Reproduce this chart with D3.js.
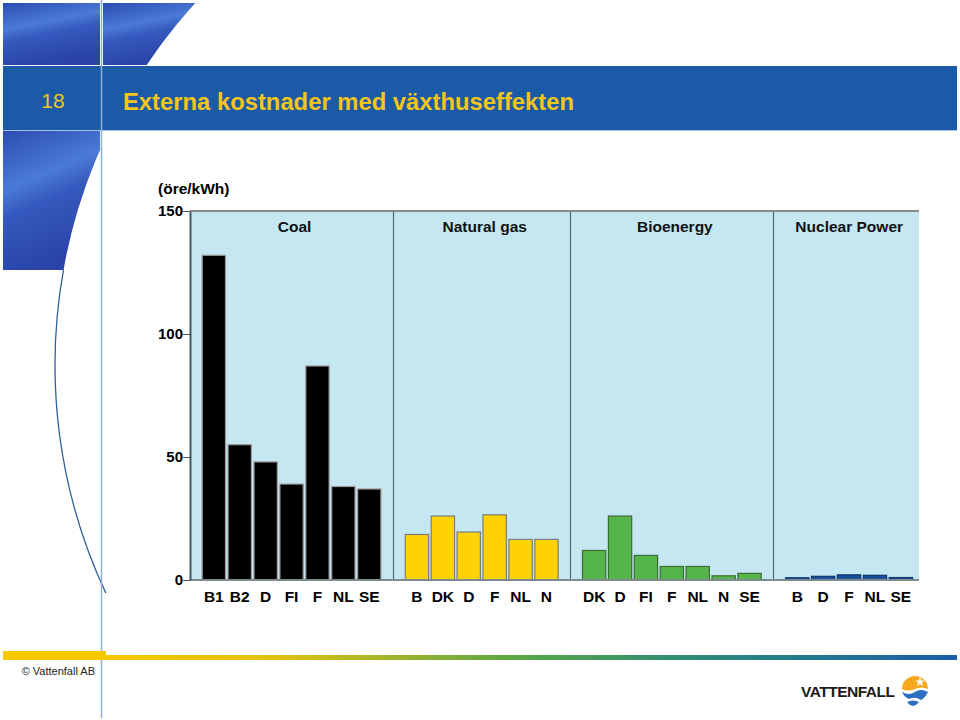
<!DOCTYPE html>
<html>
<head>
<meta charset="utf-8">
<script src="https://cdn.jsdelivr.net/npm/d3@7"></script>
<style>
  body { margin: 0; background: #fff; }
  svg { display: block; font-family: "Liberation Sans", Arial, sans-serif; }
</style>
</head>
<body>
<svg id="mainFrame"></svg>
<script>
// chart values
const groupNames = ['Coal', 'Natural gas', 'Bioenergy', 'Nuclear Power'];
const coalLabels = ['B1', 'B2', 'D', 'FI', 'F', 'NL', 'SE'];
const coalValues = [132, 55, 48, 39, 87, 38, 37];
const gasLabels = ['B', 'DK', 'D', 'F', 'NL', 'N'];
const gasValues = [18.5, 26, 19.5, 26.5, 16.5, 16.5];
const bioLabels = ['DK', 'D', 'FI', 'F', 'NL', 'N', 'SE'];
const bioValues = [12, 26, 10, 5.5, 5.5, 1.7, 2.7];
const nuclearLabels = ['B', 'D', 'F', 'NL', 'SE'];
const nuclearValues = [0.9, 1.5, 2.1, 1.9, 1.0];
const yTicks = [0, 50, 100, 150];

const fills = ['#000000', '#ffd204', '#55b54a', '#1c4f9c'];
const strokes = ['#9a9a9a', '#7c7c7c', '#3d6b38', '#0e3570'];

const width = 960, height = 720;
const svg = d3.select('#mainFrame')
    .attr('width', width)
    .attr('height', height);

const defs = svg.append('defs');

// ---- slide decoration ----
const sky = defs.append('linearGradient').attr('id', 'sky')
    .attr('x1', 0).attr('y1', 0).attr('x2', 0.3).attr('y2', 1);
sky.append('stop').attr('offset', '0%').attr('stop-color', '#2b4db3');
sky.append('stop').attr('offset', '40%').attr('stop-color', '#4a7bd6');
sky.append('stop').attr('offset', '58%').attr('stop-color', '#3559be');
sky.append('stop').attr('offset', '100%').attr('stop-color', '#2a44a8');

const foot = defs.append('linearGradient').attr('id', 'foot')
    .attr('x1', 0).attr('y1', 0).attr('x2', 1).attr('y2', 0);
foot.append('stop').attr('offset', '0%').attr('stop-color', '#f6c800');
foot.append('stop').attr('offset', '20%').attr('stop-color', '#e2c112');
foot.append('stop').attr('offset', '48%').attr('stop-color', '#5aa744');
foot.append('stop').attr('offset', '70%').attr('stop-color', '#2a8a7a');
foot.append('stop').attr('offset', '100%').attr('stop-color', '#1a5ea9');

// big circle that cuts the photo tiles
const cx = 592, cy = 365, R = 537;
defs.append('clipPath').attr('id', 'outsideCircle')
    .append('path')
    .attr('clip-rule', 'evenodd')
    .attr('d', `M0,0H${width}V${height}H0Z M${cx - R},${cy} a${R},${R} 0 1,0 ${2 * R},0 a${R},${R} 0 1,0 ${-2 * R},0Z`);

svg.append('rect').attr('x', 3).attr('y', 3).attr('width', 97).attr('height', 62).attr('fill', 'url(#sky)');
svg.append('rect').attr('x', 103).attr('y', 3).attr('width', 93).attr('height', 62)
    .attr('fill', 'url(#sky)').attr('clip-path', 'url(#outsideCircle)');
svg.append('rect').attr('x', 3).attr('y', 131).attr('width', 97).attr('height', 139)
    .attr('fill', 'url(#sky)').attr('clip-path', 'url(#outsideCircle)');

// thin arc continuing down the left side
const yA = 270, yB = 593;
const xA = cx - Math.sqrt(R * R - (cy - yA) ** 2);
const xB = cx - Math.sqrt(R * R - (yB - cy) ** 2);
svg.append('path')
    .attr('d', `M${xA},${yA} A${R},${R} 0 0,0 ${xB},${yB}`)
    .attr('fill', 'none').attr('stroke', '#2f5f98').attr('stroke-width', 1.3);

// title band
svg.append('rect').attr('x', 3).attr('y', 66).attr('width', 954).attr('height', 64).attr('fill', '#1a5aa6');
svg.append('line').attr('x1', 3).attr('x2', 957).attr('y1', 130.5).attr('y2', 130.5)
    .attr('stroke', '#a8c4e4').attr('stroke-width', 1);
svg.append('line').attr('x1', 101.5).attr('x2', 101.5).attr('y1', 0).attr('y2', 718)
    .attr('stroke', '#8fb0d6').attr('stroke-width', 1.5);

svg.append('text').attr('x', 53).attr('y', 108).attr('text-anchor', 'middle')
    .attr('font-size', 21).attr('fill', '#f5c518').text('18');
svg.append('text').attr('x', 123).attr('y', 110)
    .attr('font-size', 23.8).attr('font-weight', 'bold').attr('fill', '#f5c518')
    .text('Externa kostnader med växthuseffekten');

// footer
svg.append('rect').attr('x', 3).attr('y', 651).attr('width', 103).attr('height', 9).attr('fill', '#f6c800');
svg.append('rect').attr('x', 105).attr('y', 655).attr('width', 852).attr('height', 5).attr('fill', 'url(#foot)');
svg.append('text').attr('x', 95).attr('y', 675).attr('text-anchor', 'end')
    .attr('font-size', 11).attr('fill', '#222')
    .text('© Vattenfall AB');

const logo = svg.append('g').attr('transform', 'translate(801,697)');
logo.append('text').attr('font-size', 15.5).attr('font-weight', 'bold').attr('fill', '#1a1a1a')
    .attr('textLength', 94).text('VATTENFALL');
const sun = logo.append('g').attr('transform', 'translate(114,-8)');
sun.append('path').attr('d', 'M-13,0 A13,13 0 0,1 13,0 Q6,-3 0,0 Q-7,3 -13,0Z').attr('fill', '#f5a81e');
sun.append('path').attr('d', d3.symbol(d3.symbolStar, 30)()).attr('transform', 'translate(5,-7)').attr('fill', '#fff');
sun.append('path').attr('d', 'M-13,3 Q-6,7 0,3 Q6,-1 13,3 Q10,9 6,11 Q0,7 -6,10 Q-11,8 -13,3Z').attr('fill', '#2a6fc0');
sun.append('path').attr('d', 'M-8,13 Q-2,10 4,13 Q2,16 -2,17 Q-6,16 -8,13Z').attr('fill', '#2a6fc0');

// ---- chart ----
const groupData = [
    { name: groupNames[0], labels: coalLabels, values: coalValues },
    { name: groupNames[1], labels: gasLabels, values: gasValues },
    { name: groupNames[2], labels: bioLabels, values: bioValues },
    { name: groupNames[3], labels: nuclearLabels, values: nuclearValues }
];

const pad = 0.42;     // slot padding on each side of a group
const endPad = 0.2;   // smaller padding at the right edge of the plot
const bars = [];
const groupSpans = [];
let offset = 0;
groupData.forEach((g, gi) => {
    const start = offset;
    offset += pad;
    g.labels.forEach((l, i) => {
        bars.push({ group: gi, label: l, value: g.values[i], slot: offset });
        offset += 1;
    });
    offset += gi === groupData.length - 1 ? endPad : pad;
    groupSpans.push({ name: g.name, start: start, end: offset });
});

const plot = { left: 190, right: 919, top: 211, bottom: 580 };
const x = d3.scaleLinear().domain([0, offset]).range([plot.left, plot.right]);
const y = d3.scaleLinear().domain([0, 150]).range([plot.bottom, plot.top]);

const chart = svg.append('g');

chart.append('rect')
    .attr('x', plot.left).attr('y', plot.top)
    .attr('width', plot.right - plot.left).attr('height', plot.bottom - plot.top)
    .attr('fill', '#c5e7f1');

// group dividers
chart.selectAll('line.divider')
    .data(groupSpans.slice(1))
    .join('line')
    .attr('class', 'divider')
    .attr('x1', d => Math.round(x(d.start)) + 0.5)
    .attr('x2', d => Math.round(x(d.start)) + 0.5)
    .attr('y1', plot.top).attr('y2', plot.bottom)
    .attr('stroke', '#4d6a74').attr('stroke-width', 1.2);

chart.append('line')
    .attr('x1', plot.left).attr('x2', plot.right)
    .attr('y1', plot.top).attr('y2', plot.top)
    .attr('stroke', '#8a8a8a').attr('stroke-width', 2);

// group headers
chart.selectAll('text.head')
    .data(groupSpans)
    .join('text')
    .attr('class', 'head')
    .attr('x', d => x((d.start + d.end) / 2) + 3)
    .attr('y', 232)
    .attr('text-anchor', 'middle')
    .attr('font-size', 15.5)
    .attr('font-weight', 'bold')
    .attr('fill', '#111')
    .text(d => d.name);

// bars
chart.selectAll('rect.bar')
    .data(bars)
    .join('rect')
    .attr('class', 'bar')
    .attr('x', d => x(d.slot + 0.05))
    .attr('width', d => x(d.slot + 0.95) - x(d.slot + 0.05))
    .attr('y', d => y(d.value))
    .attr('height', d => y(0) - y(d.value))
    .attr('fill', d => fills[d.group])
    .attr('stroke', d => strokes[d.group])
    .attr('stroke-width', 1.2);

// baseline
chart.append('line')
    .attr('x1', plot.left).attr('x2', plot.right)
    .attr('y1', plot.bottom).attr('y2', plot.bottom)
    .attr('stroke', '#7d8a8e').attr('stroke-width', 2);

// category labels
chart.selectAll('text.cat')
    .data(bars)
    .join('text')
    .attr('class', 'cat')
    .attr('x', d => x(d.slot + 0.5))
    .attr('y', 602)
    .attr('text-anchor', 'middle')
    .attr('font-size', 15.5)
    .attr('font-weight', 'bold')
    .attr('fill', '#000')
    .text(d => d.label);

// y axis
const yAxis = d3.axisLeft(y).tickValues(yTicks).tickSize(7).tickSizeOuter(0).tickPadding(0);
const yg = chart.append('g')
    .attr('transform', `translate(${plot.left},0)`)
    .call(yAxis);
yg.select('.domain').attr('stroke', '#3f5c66').attr('stroke-width', 2);
yg.selectAll('.tick line').attr('stroke', '#555');
yg.selectAll('.tick text')
    .attr('font-family', '"Liberation Sans", Arial, sans-serif')
    .attr('font-size', 15)
    .attr('font-weight', 'bold')
    .attr('fill', '#000');

chart.append('text')
    .attr('x', 158).attr('y', 194)
    .attr('font-size', 15.5)
    .attr('font-weight', 'bold')
    .attr('fill', '#000')
    .text('(öre/kWh)');
</script>
</body>
</html>
